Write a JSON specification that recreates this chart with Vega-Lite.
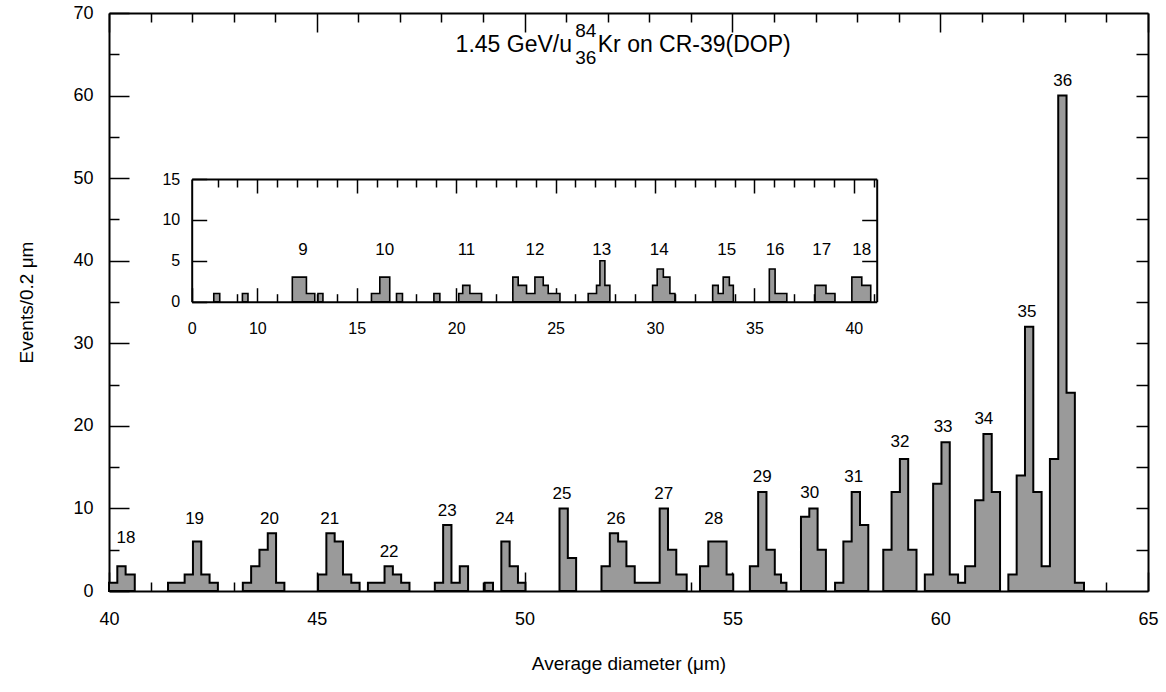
{
  "$schema": "https://vega.github.io/schema/vega-lite/v6.json",
  "description": "Kr fragment charge peaks in CR-39, main histogram with inset",
  "width": 1039,
  "height": 578,
  "autosize": {"type": "none"},
  "padding": {"left": 109, "top": 13, "right": 18, "bottom": 101},
  "config": {
    "view": {"stroke": null},
    "font": "Liberation Sans",
    "axis": {
      "grid": false,
      "domainColor": "black",
      "domainWidth": 2,
      "tickColor": "black",
      "tickWidth": 1.5,
      "labelColor": "black",
      "labelOverlap": false,
      "labelFlush": false,
      "labelFont": "Liberation Sans",
      "titleFont": "Liberation Sans",
      "titleColor": "black",
      "titleFontWeight": "normal"
    }
  },
  "datasets": {
    "main": [
      {"g": "p18", "i": 1, "a": 40.0, "b": 40.2, "n": 1},
      {"g": "p18", "i": 2, "a": 40.2, "b": 40.4, "n": 3},
      {"g": "p18", "i": 3, "a": 40.4, "b": 40.62, "n": 2},
      {"g": "p19", "i": 4, "a": 41.42, "b": 41.62, "n": 1},
      {"g": "p19", "i": 5, "a": 41.62, "b": 41.82, "n": 1},
      {"g": "p19", "i": 6, "a": 41.82, "b": 42.02, "n": 2},
      {"g": "p19", "i": 7, "a": 42.02, "b": 42.22, "n": 6},
      {"g": "p19", "i": 8, "a": 42.22, "b": 42.42, "n": 2},
      {"g": "p19", "i": 9, "a": 42.42, "b": 42.62, "n": 1},
      {"g": "p20", "i": 10, "a": 43.22, "b": 43.42, "n": 1},
      {"g": "p20", "i": 11, "a": 43.42, "b": 43.62, "n": 3},
      {"g": "p20", "i": 12, "a": 43.62, "b": 43.82, "n": 5},
      {"g": "p20", "i": 13, "a": 43.82, "b": 44.02, "n": 7},
      {"g": "p20", "i": 14, "a": 44.02, "b": 44.22, "n": 1},
      {"g": "p21", "i": 15, "a": 45.03, "b": 45.23, "n": 2},
      {"g": "p21", "i": 16, "a": 45.23, "b": 45.43, "n": 7},
      {"g": "p21", "i": 17, "a": 45.43, "b": 45.63, "n": 6},
      {"g": "p21", "i": 18, "a": 45.63, "b": 45.83, "n": 2},
      {"g": "p21", "i": 19, "a": 45.83, "b": 46.03, "n": 1},
      {"g": "p22", "i": 20, "a": 46.23, "b": 46.43, "n": 1},
      {"g": "p22", "i": 21, "a": 46.43, "b": 46.63, "n": 1},
      {"g": "p22", "i": 22, "a": 46.63, "b": 46.83, "n": 3},
      {"g": "p22", "i": 23, "a": 46.83, "b": 47.03, "n": 2},
      {"g": "p22", "i": 24, "a": 47.03, "b": 47.23, "n": 1},
      {"g": "p23", "i": 25, "a": 47.84, "b": 48.04, "n": 1},
      {"g": "p23", "i": 26, "a": 48.04, "b": 48.24, "n": 8},
      {"g": "p23", "i": 27, "a": 48.24, "b": 48.44, "n": 1},
      {"g": "p23", "i": 28, "a": 48.44, "b": 48.64, "n": 3},
      {"g": "p24a", "i": 29, "a": 49.04, "b": 49.24, "n": 1},
      {"g": "p24", "i": 30, "a": 49.44, "b": 49.64, "n": 6},
      {"g": "p24", "i": 31, "a": 49.64, "b": 49.84, "n": 3},
      {"g": "p24", "i": 32, "a": 49.84, "b": 50.02, "n": 1},
      {"g": "p25", "i": 33, "a": 50.84, "b": 51.04, "n": 10},
      {"g": "p25", "i": 34, "a": 51.04, "b": 51.24, "n": 4},
      {"g": "p26", "i": 35, "a": 51.85, "b": 52.05, "n": 3},
      {"g": "p26", "i": 36, "a": 52.05, "b": 52.25, "n": 7},
      {"g": "p26", "i": 37, "a": 52.25, "b": 52.45, "n": 6},
      {"g": "p26", "i": 38, "a": 52.45, "b": 52.65, "n": 3},
      {"g": "p26", "i": 39, "a": 52.65, "b": 52.85, "n": 1},
      {"g": "p26", "i": 40, "a": 52.85, "b": 53.05, "n": 1},
      {"g": "p26", "i": 41, "a": 53.05, "b": 53.25, "n": 1},
      {"g": "p26", "i": 42, "a": 53.25, "b": 53.45, "n": 10},
      {"g": "p26", "i": 43, "a": 53.45, "b": 53.65, "n": 5},
      {"g": "p26", "i": 44, "a": 53.65, "b": 53.9, "n": 2},
      {"g": "p28", "i": 45, "a": 54.22, "b": 54.42, "n": 3},
      {"g": "p28", "i": 46, "a": 54.42, "b": 54.64, "n": 6},
      {"g": "p28", "i": 47, "a": 54.64, "b": 54.86, "n": 6},
      {"g": "p28", "i": 48, "a": 54.86, "b": 55.02, "n": 2},
      {"g": "p29", "i": 49, "a": 55.42, "b": 55.62, "n": 3},
      {"g": "p29", "i": 50, "a": 55.62, "b": 55.82, "n": 12},
      {"g": "p29", "i": 51, "a": 55.82, "b": 56.02, "n": 5},
      {"g": "p29", "i": 52, "a": 56.02, "b": 56.17, "n": 2},
      {"g": "p29", "i": 53, "a": 56.17, "b": 56.3, "n": 1},
      {"g": "p30", "i": 54, "a": 56.65, "b": 56.85, "n": 9},
      {"g": "p30", "i": 55, "a": 56.85, "b": 57.05, "n": 10},
      {"g": "p30", "i": 56, "a": 57.05, "b": 57.25, "n": 5},
      {"g": "p31", "i": 57, "a": 57.47, "b": 57.67, "n": 1},
      {"g": "p31", "i": 58, "a": 57.67, "b": 57.87, "n": 6},
      {"g": "p31", "i": 59, "a": 57.87, "b": 58.07, "n": 12},
      {"g": "p31", "i": 60, "a": 58.07, "b": 58.27, "n": 8},
      {"g": "p32", "i": 61, "a": 58.63, "b": 58.83, "n": 5},
      {"g": "p32", "i": 62, "a": 58.83, "b": 59.03, "n": 12},
      {"g": "p32", "i": 63, "a": 59.03, "b": 59.23, "n": 16},
      {"g": "p32", "i": 64, "a": 59.23, "b": 59.43, "n": 5},
      {"g": "p33", "i": 65, "a": 59.63, "b": 59.83, "n": 2},
      {"g": "p33", "i": 66, "a": 59.83, "b": 60.03, "n": 13},
      {"g": "p33", "i": 67, "a": 60.03, "b": 60.23, "n": 18},
      {"g": "p33", "i": 68, "a": 60.23, "b": 60.43, "n": 2},
      {"g": "p33", "i": 69, "a": 60.43, "b": 60.6, "n": 1},
      {"g": "p33", "i": 70, "a": 60.6, "b": 60.84, "n": 3},
      {"g": "p33", "i": 71, "a": 60.84, "b": 61.04, "n": 11},
      {"g": "p33", "i": 72, "a": 61.04, "b": 61.24, "n": 19},
      {"g": "p33", "i": 73, "a": 61.24, "b": 61.44, "n": 12},
      {"g": "p35", "i": 74, "a": 61.64, "b": 61.84, "n": 2},
      {"g": "p35", "i": 75, "a": 61.84, "b": 62.04, "n": 14},
      {"g": "p35", "i": 76, "a": 62.04, "b": 62.24, "n": 32},
      {"g": "p35", "i": 77, "a": 62.24, "b": 62.44, "n": 12},
      {"g": "p35", "i": 78, "a": 62.44, "b": 62.64, "n": 3},
      {"g": "p35", "i": 79, "a": 62.64, "b": 62.84, "n": 16},
      {"g": "p35", "i": 80, "a": 62.84, "b": 63.04, "n": 60},
      {"g": "p35", "i": 81, "a": 63.04, "b": 63.24, "n": 24},
      {"g": "p35", "i": 82, "a": 63.24, "b": 63.46, "n": 1}
    ],
    "inset": [
      {"g": "q1", "i": 1, "a": 7.81, "b": 8.11, "n": 1},
      {"g": "q2", "i": 2, "a": 9.25, "b": 9.53, "n": 1},
      {"g": "q9", "i": 3, "a": 11.76, "b": 12.12, "n": 3},
      {"g": "q9", "i": 4, "a": 12.12, "b": 12.47, "n": 3},
      {"g": "q9", "i": 5, "a": 12.47, "b": 12.89, "n": 1},
      {"g": "q9b", "i": 6, "a": 13.05, "b": 13.3, "n": 1},
      {"g": "q10", "i": 7, "a": 15.74, "b": 16.16, "n": 1},
      {"g": "q10", "i": 8, "a": 16.16, "b": 16.66, "n": 3},
      {"g": "q10b", "i": 9, "a": 17.0, "b": 17.3, "n": 1},
      {"g": "q3", "i": 10, "a": 18.88, "b": 19.18, "n": 1},
      {"g": "q11", "i": 11, "a": 20.13, "b": 20.33, "n": 1},
      {"g": "q11", "i": 12, "a": 20.33, "b": 20.69, "n": 2},
      {"g": "q11", "i": 13, "a": 20.69, "b": 21.28, "n": 1},
      {"g": "q12", "i": 14, "a": 22.85, "b": 23.12, "n": 3},
      {"g": "q12", "i": 15, "a": 23.12, "b": 23.54, "n": 2},
      {"g": "q12", "i": 16, "a": 23.54, "b": 23.96, "n": 1},
      {"g": "q12", "i": 17, "a": 23.96, "b": 24.38, "n": 3},
      {"g": "q12", "i": 18, "a": 24.38, "b": 24.63, "n": 2},
      {"g": "q12", "i": 19, "a": 24.63, "b": 25.22, "n": 1},
      {"g": "q13", "i": 20, "a": 26.64, "b": 27.06, "n": 1},
      {"g": "q13", "i": 21, "a": 27.06, "b": 27.23, "n": 2},
      {"g": "q13", "i": 22, "a": 27.23, "b": 27.48, "n": 5},
      {"g": "q13", "i": 23, "a": 27.48, "b": 27.73, "n": 2},
      {"g": "q14", "i": 24, "a": 29.88, "b": 30.11, "n": 2},
      {"g": "q14", "i": 25, "a": 30.11, "b": 30.42, "n": 4},
      {"g": "q14", "i": 26, "a": 30.42, "b": 30.75, "n": 3},
      {"g": "q14", "i": 27, "a": 30.75, "b": 31.0, "n": 1},
      {"g": "q15", "i": 28, "a": 32.9, "b": 33.18, "n": 2},
      {"g": "q15", "i": 29, "a": 33.18, "b": 33.43, "n": 1},
      {"g": "q15", "i": 30, "a": 33.43, "b": 33.74, "n": 3},
      {"g": "q15", "i": 31, "a": 33.74, "b": 33.94, "n": 2},
      {"g": "q16", "i": 32, "a": 35.75, "b": 36.04, "n": 4},
      {"g": "q16", "i": 33, "a": 36.04, "b": 36.63, "n": 1},
      {"g": "q17", "i": 34, "a": 38.05, "b": 38.6, "n": 2},
      {"g": "q17", "i": 35, "a": 38.6, "b": 39.05, "n": 1},
      {"g": "q18", "i": 36, "a": 39.9, "b": 40.15, "n": 3},
      {"g": "q18", "i": 37, "a": 40.15, "b": 40.4, "n": 3},
      {"g": "q18", "i": 38, "a": 40.4, "b": 40.85, "n": 2}
    ],
    "mainLabels": [
      {"t": "18", "x": 40.41, "y": 6.4},
      {"t": "19", "x": 42.06, "y": 8.7},
      {"t": "20", "x": 43.86, "y": 8.7},
      {"t": "21", "x": 45.31, "y": 8.7},
      {"t": "22", "x": 46.74, "y": 4.7},
      {"t": "23", "x": 48.14, "y": 9.7},
      {"t": "24", "x": 49.52, "y": 8.7},
      {"t": "25", "x": 50.9, "y": 11.7},
      {"t": "26", "x": 52.2, "y": 8.7},
      {"t": "27", "x": 53.35, "y": 11.7},
      {"t": "28", "x": 54.55, "y": 8.7},
      {"t": "29", "x": 55.72, "y": 13.8},
      {"t": "30", "x": 56.86, "y": 11.9},
      {"t": "31", "x": 57.92, "y": 13.8},
      {"t": "32", "x": 59.03, "y": 18.0},
      {"t": "33", "x": 60.07, "y": 19.9},
      {"t": "34", "x": 61.05, "y": 20.8},
      {"t": "35", "x": 62.09, "y": 33.8},
      {"t": "36", "x": 62.95, "y": 61.8}
    ],
    "insetLabels": [
      {"t": "9", "x": 12.3, "y": 6.3},
      {"t": "10", "x": 16.41, "y": 6.3},
      {"t": "11", "x": 20.52, "y": 6.3},
      {"t": "12", "x": 23.96, "y": 6.3},
      {"t": "13", "x": 27.32, "y": 6.3},
      {"t": "14", "x": 30.21, "y": 6.3},
      {"t": "15", "x": 33.61, "y": 6.3},
      {"t": "16", "x": 36.04, "y": 6.3},
      {"t": "17", "x": 38.39, "y": 6.3},
      {"t": "18", "x": 40.4, "y": 6.3}
    ],
    "notes": [
      {"t": "1.45 GeV/u", "x": 51.14, "y": 66.1, "size": 23, "align": "right"},
      {"t": "84", "x": 51.47, "y": 67.8, "size": 19, "align": "center"},
      {"t": "36", "x": 51.47, "y": 64.5, "size": 19, "align": "center"},
      {"t": "Kr on CR-39(DOP)", "x": 51.76, "y": 66.1, "size": 23, "align": "left"}
    ]
  },
  "layer": [
    {
      "layer": [
        {
          "data": {"name": "main"},
          "transform": [{"fold": ["a", "b"], "as": ["edge", "x"]}],
          "mark": {"type": "area", "fill": "#9a9a9a", "stroke": "black", "strokeWidth": 2, "strokeJoin": "miter"},
          "encoding": {
            "x": {
              "field": "x",
              "type": "quantitative",
              "scale": {"domain": [40, 65], "nice": false, "zero": false},
              "axis": {
                "orient": "bottom",
                "values": [40, 41, 42, 43, 44, 45, 46, 47, 48, 49, 50, 51, 52, 53, 54, 55, 56, 57, 58, 59, 60, 61, 62, 63, 64, 65],
                "tickSize": {"condition": {"test": "datum.value % 5 === 0", "value": -19}, "value": -9},
                "labelExpr": "datum.value % 5 === 0 ? datum.label : ''",
                "labelOverlap": false,
                "labelFontSize": 18,
                "labelPadding": 38,
                "title": "Average diameter  (μm)",
                "titleFontSize": 19,
                "titlePadding": 16
              }
            },
            "y": {
              "field": "n",
              "type": "quantitative",
              "stack": null,
              "scale": {"domain": [0, 70], "nice": false},
              "axis": {
                "orient": "left",
                "values": [0, 5, 10, 15, 20, 25, 30, 35, 40, 45, 50, 55, 60, 65, 70],
                "tickSize": {"condition": {"test": "datum.value % 10 === 0", "value": -20}, "value": -10},
                "labelExpr": "datum.value % 10 === 0 ? datum.label : ''",
                "labelOverlap": false,
                "labelFontSize": 18,
                "labelPadding": 36,
                "title": "Events/0.2  μm",
                "titleFontSize": 19,
                "titlePadding": 36
              }
            },
            "detail": {"field": "g"},
            "order": [{"field": "x", "type": "quantitative"}, {"field": "i", "type": "quantitative"}]
          }
        },
        {
          "data": {"name": "mainLabels"},
          "mark": {"type": "text", "fontSize": 17, "color": "black", "baseline": "middle", "align": "center"},
          "encoding": {
            "x": {"field": "x", "type": "quantitative"},
            "y": {"field": "y", "type": "quantitative"},
            "text": {"field": "t"}
          }
        },
        {
          "data": {"name": "notes"},
          "transform": [{"filter": "datum.align === 'right'"}],
          "mark": {"type": "text", "color": "black", "baseline": "middle", "align": "right"},
          "encoding": {
            "x": {"field": "x", "type": "quantitative"},
            "y": {"field": "y", "type": "quantitative"},
            "text": {"field": "t"},
            "size": {"field": "size", "type": "quantitative", "scale": null}
          }
        },
        {
          "data": {"name": "notes"},
          "transform": [{"filter": "datum.align === 'center'"}],
          "mark": {"type": "text", "color": "black", "baseline": "middle", "align": "center"},
          "encoding": {
            "x": {"field": "x", "type": "quantitative"},
            "y": {"field": "y", "type": "quantitative"},
            "text": {"field": "t"},
            "size": {"field": "size", "type": "quantitative", "scale": null}
          }
        },
        {
          "data": {"name": "notes"},
          "transform": [{"filter": "datum.align === 'left'"}],
          "mark": {"type": "text", "color": "black", "baseline": "middle", "align": "left"},
          "encoding": {
            "x": {"field": "x", "type": "quantitative"},
            "y": {"field": "y", "type": "quantitative"},
            "text": {"field": "t"},
            "size": {"field": "size", "type": "quantitative", "scale": null}
          }
        }
      ]
    },
    {
      "data": {"name": "mainLabels"},
      "mark": {"type": "text", "opacity": 0},
      "encoding": {
        "x": {
          "field": "x",
          "type": "quantitative",
          "scale": {"domain": [40, 65], "nice": false, "zero": false},
          "axis": {
            "orient": "top",
            "values": [40, 41, 42, 43, 44, 45, 46, 47, 48, 49, 50, 51, 52, 53, 54, 55, 56, 57, 58, 59, 60, 61, 62, 63, 64, 65],
            "tickSize": {"condition": {"test": "datum.value % 5 === 0", "value": -19}, "value": -9},
            "labels": false,
            "title": null
          }
        },
        "y": {
          "field": "y",
          "type": "quantitative",
          "scale": {"domain": [0, 70], "nice": false},
          "axis": {
            "orient": "right",
            "values": [5, 10, 15, 20, 25, 30, 35, 40, 45, 50, 55, 60, 65],
            "tickSize": -12,
            "labels": false,
            "title": null
          }
        },
        "text": {"field": "t"}
      }
    },
    {
      "layer": [
        {
          "data": {"name": "inset"},
          "transform": [{"fold": ["a", "b"], "as": ["edge", "x"]}],
          "mark": {"type": "area", "fill": "#9a9a9a", "stroke": "black", "strokeWidth": 1.6, "strokeJoin": "miter"},
          "encoding": {
            "x": {
              "field": "x",
              "type": "quantitative",
              "scale": {"domain": [6.7, 41.15], "range": [82.7, 767.7], "nice": false, "zero": false},
              "axis": {
                "orient": "bottom",
                "offset": -289.3,
                "values": [6.7, 10, 15, 20, 25, 30, 35, 40],
                "tickSize": -14,
                "labelExpr": "datum.value < 7 ? '0' : format(datum.value, 'd')",
                "labelOverlap": false,
                "labelFontSize": 16,
                "labelPadding": 33,
                "title": null
              }
            },
            "y": {
              "field": "n",
              "type": "quantitative",
              "stack": null,
              "scale": {"domain": [0, 15], "range": [288.7, 166], "nice": false},
              "axis": {
                "orient": "left",
                "offset": -82.7,
                "values": [0, 5, 10, 15],
                "tickSize": -15,
                "labelOverlap": false,
                "labelFontSize": 16,
                "labelPadding": 27,
                "title": null
              }
            },
            "detail": {"field": "g"},
            "order": [{"field": "x", "type": "quantitative"}, {"field": "i", "type": "quantitative"}]
          }
        },
        {
          "data": {"name": "insetLabels"},
          "mark": {"type": "text", "fontSize": 17, "color": "black", "baseline": "middle", "align": "center"},
          "encoding": {
            "x": {"field": "x", "type": "quantitative"},
            "y": {"field": "y", "type": "quantitative"},
            "text": {"field": "t"}
          }
        }
      ]
    },
    {
      "data": {"name": "insetLabels"},
      "mark": {"type": "text", "opacity": 0},
      "encoding": {
        "x": {
          "field": "x",
          "type": "quantitative",
          "scale": {"domain": [6.7, 41.15], "range": [82.7, 767.7], "nice": false, "zero": false},
          "axis": {
            "orient": "top",
            "offset": -166,
            "values": [8, 9, 10, 11, 12, 13, 14, 15, 16, 17, 18, 19, 20, 21, 22, 23, 24, 25, 26, 27, 28, 29, 30, 31, 32, 33, 34, 35, 36, 37, 38, 39, 40, 41],
            "tickSize": {"condition": {"test": "datum.value % 5 === 0", "value": -14}, "value": -8},
            "labels": false,
            "title": null
          }
        },
        "y": {
          "field": "y",
          "type": "quantitative",
          "scale": {"domain": [0, 15], "range": [288.7, 166], "nice": false},
          "axis": {
            "orient": "right",
            "offset": -271.3,
            "values": [5, 10],
            "tickSize": -15,
            "labels": false,
            "title": null
          }
        },
        "text": {"field": "t"}
      }
    },
    {
      "data": {"name": "insetLabels"},
      "mark": {"type": "text", "opacity": 0},
      "encoding": {
        "x": {
          "field": "x",
          "type": "quantitative",
          "scale": {"domain": [6.7, 41.15], "range": [82.7, 767.7], "nice": false, "zero": false},
          "axis": {
            "orient": "bottom",
            "offset": -289.3,
            "values": [8, 9, 11, 12, 13, 14, 16, 17, 18, 19, 21, 22, 23, 24, 26, 27, 28, 29, 31, 32, 33, 34, 36, 37, 38, 39, 41],
            "tickSize": -8,
            "labels": false,
            "domain": false,
            "title": null
          }
        },
        "text": {"field": "t"}
      }
    }
  ],
  "resolve": {
    "scale": {"x": "independent", "y": "independent"},
    "axis": {"x": "independent", "y": "independent"}
  }
}
